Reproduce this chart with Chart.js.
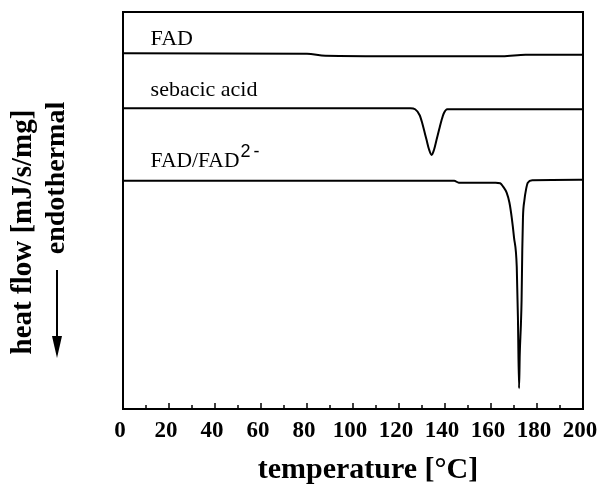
<!DOCTYPE html>
<html>
<head>
<meta charset="utf-8">
<script src="https://cdn.jsdelivr.net/npm/chart.js@4/dist/chart.umd.min.js"></script>
<style>
  html, body { margin: 0; padding: 0; background: #fff; }
  #wrap { width: 600px; height: 488px; }
</style>
</head>
<body>
<div id="wrap"><canvas id="dsc_canvas"></canvas></div>
<script>
// DSC traces, temperature in °C, heat flow in arbitrary (offset) units
const FAD_T = [0, 80, 88, 120, 165, 175, 200];
const FAD_HF = [35.85, 35.8, 35.6, 35.55, 35.55, 35.7, 35.7];

const SEB_T = [0, 100, 125, 127, 129, 130, 131, 132, 133, 134.2, 135.2, 136.3, 137.5, 138.5, 139.5, 141, 143, 200];
const SEB_HF = [30.3, 30.3, 30.3, 30.2, 29.6, 28.9, 28.0, 27.1, 26.2, 25.6, 26.1, 27.1, 28.2, 29.1, 29.8, 30.2, 30.2, 30.2];

const MIX_T = [0, 100, 144, 146, 162, 164, 165.3, 166.8, 168, 169, 170, 171.2, 171.7, 172.2, 172.5, 173, 173.3, 173.6, 173.9, 174.5, 175.3, 176, 178, 200];
const MIX_HF = [23.0, 23.0, 23.0, 22.8, 22.8, 22.75, 22.4, 21.8, 20.8, 19.3, 17.3, 14.3, 9.3, 2.1, 5.5, 8.5, 11, 16, 19.3, 21, 22.2, 22.8, 23.05, 23.1];

const X_TICKS = [0, 20, 40, 60, 80, 100, 120, 140, 160, 180, 200];
const MINOR_TICKS = [10, 30, 50, 70, 90, 110, 130, 150, 170, 190];

function toPoints(xs, ys) {
    return xs.map((x, i) => ({ x: x, y: ys[i] }));
}

function makeSet(label, xs, ys) {
    return {
        label: label,
        data: toPoints(xs, ys),
        borderColor: '#000',
        borderWidth: 2,
        pointRadius: 0,
        fill: false,
        cubicInterpolationMode: 'monotone'
    };
}

// frame, inward ticks, curve labels and the rotated y title
const decorations = {
    id: 'decorations',
    afterDraw(chart) {
        const ctx = chart.ctx;
        const a = chart.chartArea;
        const xs = chart.scales.x;
        const ys = chart.scales.y;
        ctx.save();
        ctx.strokeStyle = '#000';
        ctx.lineWidth = 2;
        ctx.strokeRect(a.left, a.top, a.right - a.left, a.bottom - a.top);

        ctx.lineWidth = 1.5;
        ctx.beginPath();
        X_TICKS.forEach(v => {
            const px = xs.getPixelForValue(v);
            ctx.moveTo(px, a.bottom);
            ctx.lineTo(px, a.bottom - 6);
        });
        MINOR_TICKS.forEach(v => {
            const px = xs.getPixelForValue(v);
            ctx.moveTo(px, a.bottom);
            ctx.lineTo(px, a.bottom - 4);
        });
        ctx.stroke();

        // curve labels
        ctx.fillStyle = '#000';
        ctx.textAlign = 'left';
        ctx.textBaseline = 'alphabetic';
        const lx = xs.getPixelForValue(12);
        ctx.font = '22px "Liberation Serif"';
        ctx.fillText('FAD', lx, ys.getPixelForValue(FAD_HF[0]) - 8);
        ctx.fillText('sebacic acid', lx, ys.getPixelForValue(SEB_HF[0]) - 12.5);
        const my = ys.getPixelForValue(MIX_HF[0]) - 14;
        ctx.font = '21.5px "Liberation Serif"';
        ctx.fillText('FAD/FAD', lx, my);
        const w = ctx.measureText('FAD/FAD').width;
        ctx.font = '18px "Liberation Sans"';
        ctx.letterSpacing = '3px';
        ctx.fillText('2-', lx + w + 1, my - 10);
        ctx.letterSpacing = '0px';

        // y title
        ctx.font = 'bold 29px "Liberation Serif"';
        ctx.textAlign = 'center';
        ctx.save();
        ctx.translate(31, 232);
        ctx.rotate(-Math.PI / 2);
        ctx.fillText('heat flow [mJ/s/mg]', 0, 0);
        ctx.restore();
        ctx.font = 'bold 28px "Liberation Serif"';
        ctx.save();
        ctx.translate(64, 178);
        ctx.rotate(-Math.PI / 2);
        ctx.fillText('endothermal', 0, 0);
        ctx.restore();

        // arrow
        ctx.lineWidth = 2;
        ctx.beginPath();
        ctx.moveTo(57, 270);
        ctx.lineTo(57, 340);
        ctx.stroke();
        ctx.beginPath();
        ctx.moveTo(52, 336);
        ctx.lineTo(62, 336);
        ctx.lineTo(57, 358);
        ctx.closePath();
        ctx.fill();
        ctx.restore();
    }
};

document.addEventListener("DOMContentLoaded", function () {
    Chart.defaults.color = '#000';
    Chart.defaults.font.family = '"Liberation Serif"';

    new Chart(document.getElementById('dsc_canvas'), {
        type: 'line',
        data: {
            datasets: [
                makeSet('FAD', FAD_T, FAD_HF),
                makeSet('sebacic acid', SEB_T, SEB_HF),
                makeSet('FAD/FAD2-', MIX_T, MIX_HF)
            ]
        },
        options: {
            responsive: true,
            maintainAspectRatio: false,
            animation: false,
            layout: { padding: { left: 123, right: 17, top: 12, bottom: 0 } },
            plugins: {
                legend: { display: false },
                tooltip: { enabled: false }
            },
            scales: {
                x: {
                    type: 'linear',
                    min: 0,
                    max: 200,
                    grid: { display: false, drawTicks: false },
                    border: { display: false },
                    ticks: {
                        stepSize: 20,
                        padding: 8,
                        labelOffset: -3,
                        maxRotation: 0,
                        font: { size: 23, weight: 'bold' }
                    },
                    title: {
                        display: true,
                        // leading spaces: the title sits a bit right of centre in the original
                        text: '\u00a0\u00a0\u00a0\u00a0temperature [°C]',
                        padding: { top: 0, bottom: 0 },
                        font: { size: 30, weight: 'bold' }
                    },
                    afterFit: (s) => {
                        // keep the plot box where the original has it
                        s.height = 79;
                        s.paddingLeft = 0;
                        s.paddingRight = 0;
                    }
                },
                y: {
                    type: 'linear',
                    min: 0,
                    max: 40,
                    display: false
                }
            }
        },
        plugins: [decorations]
    });
});
</script>
</body>
</html>
